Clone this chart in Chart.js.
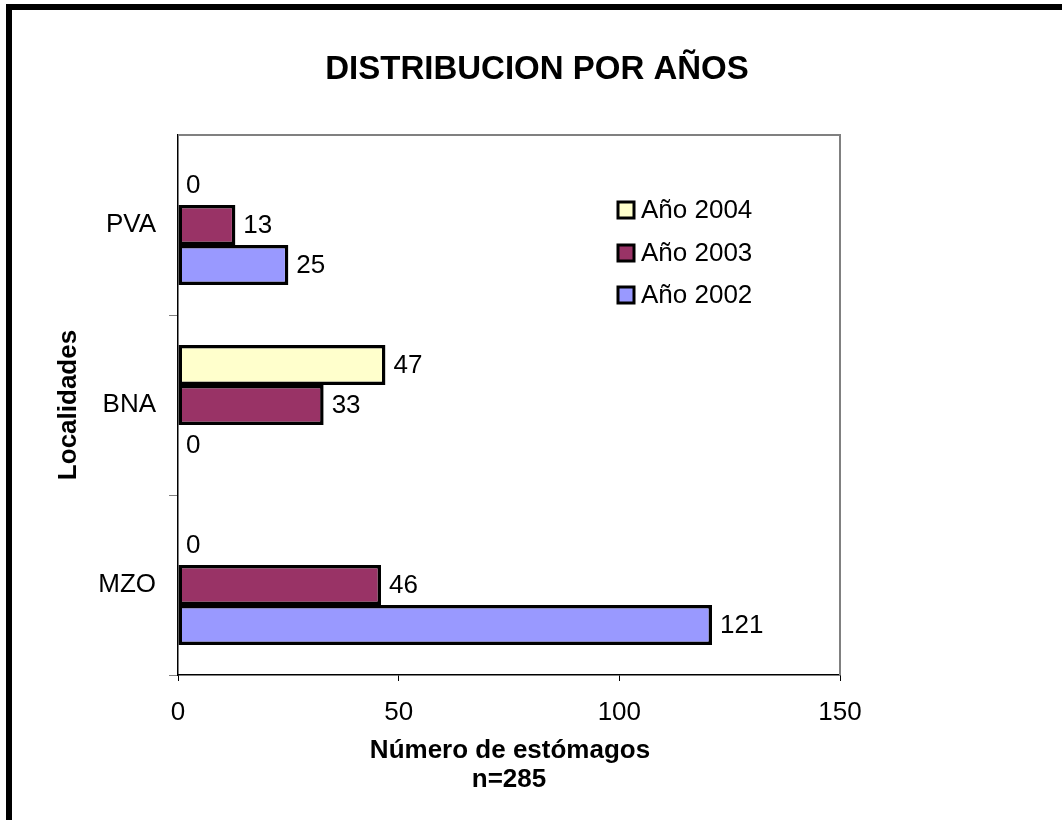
<!DOCTYPE html>
<html>
<head>
<meta charset="utf-8">
<script src="https://cdn.jsdelivr.net/npm/chart.js@4"></script>
<style>
  body { margin:0; background:#fff; }
  #wrap { width:1062px; height:820px; }
</style>
</head>
<body>
<div id="wrap"><canvas id="chart" width="1062" height="820"></canvas></div>
<script>
// data
const localidades = ['PVA', 'BNA', 'MZO'];
const anios = ['Año 2004', 'Año 2003', 'Año 2002'];
const valores2004 = [0, 47, 0];
const valores2003 = [13, 33, 46];
const valores2002 = [25, 0, 121];
const coloresAnio = ['#FFFFCC', '#993366', '#9999FF'];
const ticksX = [0, 50, 100, 150];

const FONT = 'Arial, "Liberation Sans", sans-serif';

// title, axis titles, legend, value labels and frame
const extras = {
    id: 'extras',
    afterDraw(chart) {
        const ctx = chart.ctx;
        const area = chart.chartArea;
        ctx.save();

        // outer frame (only left and top visible)
        ctx.fillStyle = '#000';
        ctx.fillRect(6, 4, 6, 816);
        ctx.fillRect(6, 4, 1056, 6);

        // plot area frame top/right
        ctx.strokeStyle = '#808080';
        ctx.lineWidth = 2;
        ctx.beginPath();
        ctx.moveTo(area.left, area.top);
        ctx.lineTo(area.right, area.top);
        ctx.lineTo(area.right, area.bottom);
        ctx.stroke();

        // title
        ctx.fillStyle = '#000';
        ctx.font = 'bold 33px ' + FONT;
        ctx.textAlign = 'center';
        ctx.textBaseline = 'alphabetic';
        ctx.fillText('DISTRIBUCION POR AÑOS', 537, 79);

        // x title
        const cx = (area.left + area.right) / 2;
        ctx.font = 'bold 26px ' + FONT;
        ctx.fillText('Número de estómagos', cx + 1, 758);
        ctx.fillText('n=285', cx, 787);

        // y title
        ctx.save();
        ctx.translate(69, (area.top + area.bottom) / 2);
        ctx.rotate(-Math.PI / 2);
        ctx.textBaseline = 'middle';
        ctx.fillText('Localidades', 0, 0);
        ctx.restore();

        // value labels
        ctx.font = '26px ' + FONT;
        ctx.textAlign = 'left';
        ctx.textBaseline = 'middle';
        chart.data.datasets.forEach((ds, i) => {
            chart.getDatasetMeta(i).data.forEach((bar, j) => {
                ctx.fillText(String(ds.data[j]), bar.x + 8, bar.y + 1);
            });
        });

        // legend
        const rows = [210, 253, 295];
        anios.forEach((a, i) => {
            ctx.fillStyle = coloresAnio[i];
            ctx.fillRect(618, rows[i] - 8, 16, 16);
            ctx.strokeStyle = '#000';
            ctx.lineWidth = 3;
            ctx.strokeRect(618, rows[i] - 8, 16, 16);
            ctx.fillStyle = '#000';
            ctx.fillText(a, 641, rows[i] + 1);
        });
        ctx.restore();
    }
};

const datasets = [valores2004, valores2003, valores2002].map((d, i) => ({
    label: anios[i],
    data: d,
    backgroundColor: coloresAnio[i],
    borderColor: '#000',
    borderWidth: 3.5,
    borderSkipped: false,
    categoryPercentage: 0.667,
    barPercentage: 1.0
}));

new Chart(document.getElementById('chart'), {
    type: 'bar',
    data: { labels: localidades, datasets: datasets },
    options: {
        indexAxis: 'y',
        responsive: false,
        animation: false,
        layout: { padding: { left: 0, top: 135, right: 222, bottom: 0 } },
        plugins: { legend: { display: false }, tooltip: { enabled: false }, title: { display: false } },
        scales: {
            x: {
                min: 0, max: 150,
                afterBuildTicks: s => { s.ticks = ticksX.map(v => ({ value: v })); },
                afterFit: s => { s.height = 820 - 675; },
                grid: { drawOnChartArea: false, tickLength: 6, color: '#000' },
                border: { color: '#000', width: 1.5 },
                ticks: { color: '#000', font: { family: FONT, size: 26 }, padding: 16, maxRotation: 0 }
            },
            y: {
                afterFit: s => { s.width = 178; },
                grid: {
                    drawOnChartArea: false, tickLength: 9, offset: true,
                    color: c => c.index === 0 ? 'rgba(0,0,0,0)' : '#808080'
                },
                border: { color: '#000', width: 1.5 },
                ticks: { color: '#000', font: { family: FONT, size: 26 }, padding: 13 }
            }
        }
    },
    plugins: [extras]
});
</script>
</body>
</html>
